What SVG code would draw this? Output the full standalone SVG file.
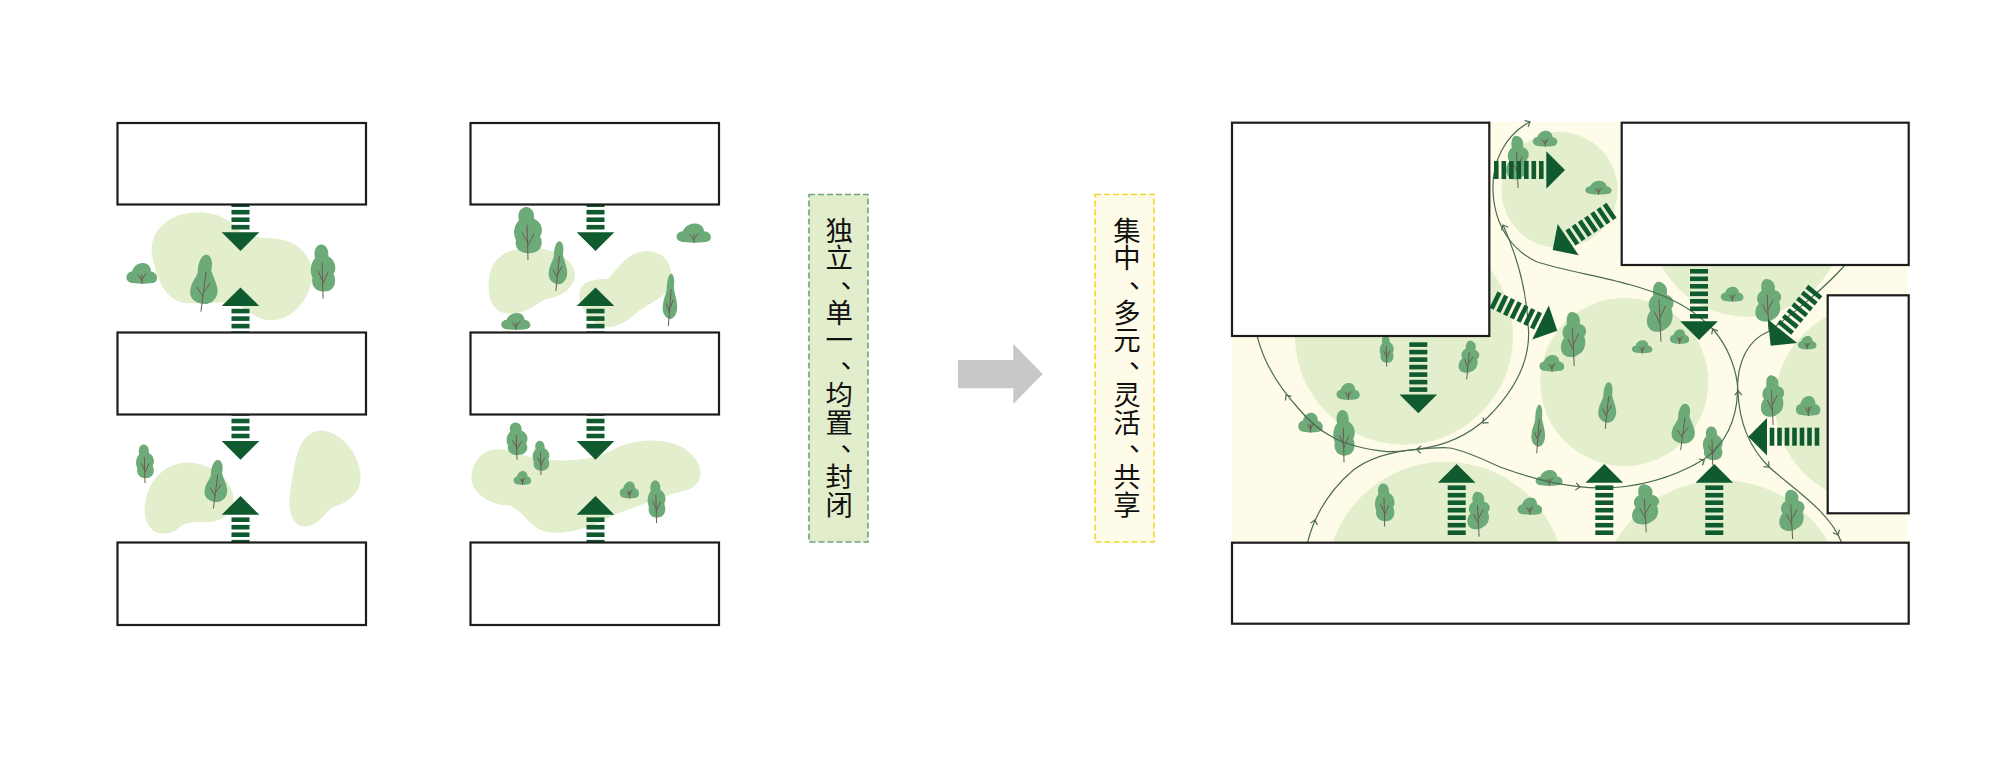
<svg xmlns="http://www.w3.org/2000/svg" width="2000" height="761" viewBox="0 0 2000 761">
<style>
.box{fill:#fff;stroke:#1c1c1c;stroke-width:2.2}
.blob{fill:#e3eecd}
.crown{fill:#6cab78}
.trunk{fill:none;stroke:#6d5a52;stroke-width:1;vector-effect:non-scaling-stroke}
.route{fill:none;stroke:#4b6a52;stroke-width:1.2}
.ink{fill:#0f5a2e}
.label{font-family:"Noto Sans CJK SC","Noto Sans",sans-serif;font-size:27.4px;fill:#111}
</style>
<defs>
<!-- entrance arrow: tip at the origin, pointing up -->
<g id="entry" class="ink">
<path d="M0 0L18.8 18.7H-18.8Z"/>
<rect x="-9" y="21.4" width="18" height="4.6"/>
<rect x="-9" y="28.9" width="18" height="4.6"/>
<rect x="-9" y="36.4" width="18" height="4.6"/>
<rect x="-9" y="43.9" width="18" height="4.6"/>
<rect x="-9" y="51.4" width="18" height="4.6"/>
<rect x="-9" y="58.9" width="18" height="4.6"/>
<rect x="-9" y="66.4" width="18" height="4.6"/>
</g>
<!-- trees: origin at trunk foot, 28 by 60 units -->
<g id="tree-a">
<path class="crown" d="M-3-60C3-61 7-54 6-47C14-43 16-33 12-27C16-19 13-9 4-8C-7-6-14-13-12-23C-16-32-13-41-9-45C-11-53-8-59-3-60Z"/>
<path class="trunk" d="M0 0L-1-40M-.6-20L-6-31M-.5-16L6-30"/>
</g>
<g id="tree-b">
<path class="crown" d="M2-60C7-60 9-52 7-44C8-38 12-32 13-24C14-15 8-8 0-8C-9-9-15-15-13-24C-12-31-8-35-6-41C-6-50-3-60 2-60Z"/>
<path class="trunk" d="M-3 0L2-42M-1-16L-7-26M-.5-20L6-30"/>
</g>
<g id="tree-c">
<path class="crown" d="M-2-60C5-60 9-53 7-47C15-45 16-37 12-33C15-26 13-16 6-13C2-9-6-9-10-12C-16-17-14-27-10-31C-14-37-11-44-7-46C-8-53-7-59-2-60Z"/>
<path class="trunk" d="M1 0L-1-42M0-18L-6-30M0-24L6-36"/>
</g>
<g id="bush">
<path class="crown" d="M-9-1C-17-1-18-11-10-12C-8-18-3-20 1-20C6-20 9-16 9-12C17-11 17-1 10-1C4 0-3 0-9-1Z"/>
<path class="trunk" d="M0 0L0-9M0-3L-4-9M0-4L4-10"/>
</g>
<!-- open chevron drawn on the walking routes -->
<path id="chev" d="M-3.6 4.2L0 0L3.6 4.2" fill="none" stroke="#4b6a52" stroke-width="1.2"/>
<clipPath id="panel-clip"><rect x="1232" y="122" width="676.5" height="421"/></clipPath>
</defs>

<rect width="2000" height="761" fill="#fff"/>

<!-- existing layouts: lawn patches -->
<g id="lawns-left" transform="translate(99.5 110) scale(.41 .338)">
<path class="blob" d="M235 303C290 300 320 330 345 360C380 385 420 375 450 385C505 400 530 470 515 520C500 580 460 625 415 622C380 620 360 590 330 570C290 565 250 575 205 570C160 560 140 500 130 440C115 370 160 305 235 303Z"/>
<path class="blob" d="M215 1043C280 1045 325 1100 327 1150C325 1190 300 1220 260 1220C220 1215 200 1225 185 1245C150 1265 115 1250 110 1190C110 1110 150 1045 215 1043Z"/>
<path class="blob" d="M540 948C590 950 635 1020 637 1085C637 1130 610 1160 570 1175C545 1195 535 1232 500 1232C470 1230 458 1190 465 1130C475 1060 480 950 540 948Z"/>
<path class="blob" d="M1045 408C1100 405 1160 440 1160 490C1155 530 1130 550 1090 560C1060 575 1050 600 1000 603C960 600 945 560 950 500C955 440 990 410 1045 408Z"/>
<path class="blob" d="M1335 417C1380 418 1400 460 1395 510C1385 555 1340 570 1310 600C1285 630 1250 650 1225 640C1190 625 1170 580 1170 540C1175 505 1210 500 1240 500C1265 470 1285 420 1335 417Z"/>
<path class="blob" d="M960 1005C1010 1000 1030 1030 1090 1035C1160 1040 1210 1035 1260 1000C1310 970 1390 970 1430 1005C1475 1040 1480 1110 1430 1125C1380 1140 1320 1170 1260 1195C1210 1230 1150 1255 1100 1250C1050 1245 1040 1190 1000 1170C950 1170 905 1130 907 1085C910 1040 930 1010 960 1005Z"/>
</g>

<g id="trees-left">
<use href="#bush" transform="translate(142 284) scale(1 1.05)"/>
<use href="#tree-b" transform="translate(204 311.7) scale(1.04 .95)"/>
<use href="#tree-a" transform="translate(323 298.5) scale(.88 .9)"/>
<use href="#tree-a" transform="translate(528 260) scale(1 .88)"/>
<use href="#tree-b" transform="translate(558 291) scale(.7 .83)"/>
<use href="#bush" transform="translate(694 243) scale(1.12 .98)"/>
<use href="#bush" transform="translate(516 330) scale(.95 .85)"/>
<use href="#tree-b" transform="translate(670 326) scale(.55 .87)"/>
<use href="#tree-a" transform="translate(145 483) scale(.64 .64)"/>
<use href="#tree-b" transform="translate(216 508.6) scale(.86 .81)"/>
<use href="#tree-a" transform="translate(517 459.7) scale(.75 .62)"/>
<use href="#tree-a" transform="translate(541 475) scale(.6 .57)"/>
<use href="#bush" transform="translate(522.5 485) scale(.57 .7)"/>
<use href="#bush" transform="translate(629.5 498.5) scale(.63 .85)"/>
<use href="#tree-a" transform="translate(656.5 523) scale(.64 .71)"/>
</g>

<g id="entries-left">
<use href="#entry" transform="translate(240.5 250.9) rotate(180)"/>
<use href="#entry" transform="translate(240.5 287.4)"/>
<use href="#entry" transform="translate(240.5 459.7) rotate(180)"/>
<use href="#entry" transform="translate(240.5 496)"/>
<use href="#entry" transform="translate(595.5 250.9) rotate(180)"/>
<use href="#entry" transform="translate(595.5 287.4)"/>
<use href="#entry" transform="translate(595.5 459.7) rotate(180)"/>
<use href="#entry" transform="translate(595.5 496)"/>
</g>

<g id="blocks-left">
<rect id="block-a1" class="box" x="117.5" y="123" width="248.5" height="81.5"/>
<rect id="block-a2" class="box" x="117.5" y="332.5" width="248.5" height="82"/>
<rect id="block-a3" class="box" x="117.5" y="542.5" width="248.5" height="82.5"/>
<rect id="block-b1" class="box" x="470.5" y="123" width="248.5" height="81.5"/>
<rect id="block-b2" class="box" x="470.5" y="332.5" width="248.5" height="82"/>
<rect id="block-b3" class="box" x="470.5" y="542.5" width="248.5" height="82.5"/>
</g>

<!-- captions and the transition arrow -->
<g id="caption-before">
<rect x="809" y="194.5" width="59" height="347.5" fill="#e2edcb" stroke="#6fa57a" stroke-width="1.6" stroke-dasharray="6 3"/>
<text class="label" x="825.6 825.6 840.5 825.6 825.6 840.5 825.6 825.6 840.5 825.6 825.6" y="240.7 268.1 288 322.9 350.3 368 405.1 432.5 451 487.3 514.7">独立、单一、均置、封闭</text>
</g>
<path id="transition" d="M958 360H1013.3V344L1042.7 374L1013.3 404V388.3H958Z" fill="#c8c8c8"/>
<g id="caption-after">
<rect x="1095" y="194.5" width="59" height="347.5" fill="#fefce8" stroke="#eed82c" stroke-width="1.6" stroke-dasharray="6 3"/>
<text class="label" x="1113.3 1113.3 1129 1113.3 1113.3 1129 1113.3 1113.3 1129 1113.3 1113.3" y="240.7 268.1 288 322.9 350.3 368 405.1 432.5 451 487.3 514.7">集中、多元、灵活、共享</text>
</g>

<!-- proposed layout -->
<g id="site" clip-path="url(#panel-clip)">
<rect x="1232" y="122" width="676.5" height="421" fill="#fefce8"/>
<circle class="blob" cx="1559.5" cy="190" r="58"/>
<circle class="blob" cx="1404" cy="335.7" r="109"/>
<circle class="blob" cx="1624.3" cy="382" r="84"/>
<circle class="blob" cx="1445.5" cy="580.7" r="119"/>
<circle class="blob" cx="1721.7" cy="603" r="122.8"/>
<circle class="blob" cx="1746.7" cy="219.7" r="97"/>
<circle class="blob" cx="1873.5" cy="403.3" r="98.5"/>
</g>

<g id="trees-site">
<use href="#tree-c" transform="translate(1517.3 188) scale(.8 .87)"/>
<use href="#bush" transform="translate(1545.3 146.7) scale(.8 .8)"/>
<use href="#bush" transform="translate(1598.7 194.7) scale(.86 .7)"/>
<use href="#tree-a" transform="translate(1386.7 366.7) scale(.5 .52)"/>
<use href="#tree-c" transform="translate(1466 379.3) scale(.68 .65) rotate(8)"/>
<use href="#bush" transform="translate(1348.3 400) scale(.76 .85)"/>
<use href="#bush" transform="translate(1310.7 432.7) scale(.8 1)"/>
<use href="#tree-a" transform="translate(1344 462.3) scale(.77 .87)"/>
<use href="#tree-c" transform="translate(1573.3 366) scale(.9 .9)"/>
<use href="#bush" transform="translate(1552 371.7) scale(.81 .84)"/>
<use href="#tree-c" transform="translate(1660 341.7) scale(.95 1)"/>
<use href="#bush" transform="translate(1642.3 353.3) scale(.67 .65)"/>
<use href="#bush" transform="translate(1679.7 344) scale(.63 .74)"/>
<use href="#tree-b" transform="translate(1607.3 429) scale(.68 .78)"/>
<use href="#tree-b" transform="translate(1538.3 453.3) scale(.52 .81)"/>
<use href="#tree-b" transform="translate(1683.3 450) scale(.88 .77)"/>
<use href="#tree-a" transform="translate(1712.7 465) scale(.71 .64)"/>
<use href="#bush" transform="translate(1549.3 486) scale(.88 .8)"/>
<use href="#tree-a" transform="translate(1384.7 526.7) scale(.7 .72)"/>
<use href="#tree-c" transform="translate(1478.3 536.7) scale(.8 .75)"/>
<use href="#bush" transform="translate(1530 515) scale(.8 .87)"/>
<use href="#tree-c" transform="translate(1645.3 532.3) scale(.96 .8)"/>
<use href="#tree-c" transform="translate(1791.7 539) scale(.9 .82)"/>
<use href="#tree-c" transform="translate(1768 330) scale(.92 .85)"/>
<use href="#bush" transform="translate(1732.3 301.7) scale(.74 .75)"/>
<use href="#bush" transform="translate(1807.3 349.3) scale(.61 .67)"/>
<use href="#tree-c" transform="translate(1772.3 425) scale(.83 .83)"/>
<use href="#bush" transform="translate(1808.3 416) scale(.8 1)"/>
</g>

<!-- walking routes and entrance arrows -->
<g id="connectors">
<path class="route" d="M1257.3 336.7C1264 364 1280 388 1298 408C1318 432 1340 447 1386.7 451.7C1402 452 1410 450 1416.7 449.3C1446 446 1470 434 1488 417C1515 390 1530 360 1528.5 330C1527 290 1518 258 1503 225"/>
<path class="route" d="M1530 121.7C1505 135 1492 162 1493 190C1494 228 1515 252 1536.7 261.7C1575 274 1630 280 1670 299C1688 307 1700 316 1712.7 329C1728 346 1737 370 1738 391C1739 425 1752 450 1769 467C1795 490 1830 512 1841.7 542.7"/>
<path class="route" d="M1307.3 543.3C1314 516 1330 490 1353.3 470C1372 456 1396 451 1416.7 449.3C1430 448 1442 447 1450 448C1470 452 1490 463 1503 468C1530 478 1555 484 1578.3 486.7C1610 490 1655 488 1703 460C1725 445 1737 420 1737.5 391C1737 362 1748 340 1768 331.7C1790 316 1825 288 1845 265"/>
<g id="route-chevrons">
<use href="#chev" transform="translate(1530 121.7) rotate(60)"/>
<use href="#chev" transform="translate(1503 225) rotate(-25)"/>
<use href="#chev" transform="translate(1286 395) rotate(-35)"/>
<use href="#chev" transform="translate(1483 423) rotate(225)"/>
<use href="#chev" transform="translate(1416.7 449.3) rotate(-85)"/>
<use href="#chev" transform="translate(1315 520) rotate(15)"/>
<use href="#chev" transform="translate(1580 487) rotate(97)"/>
<use href="#chev" transform="translate(1704.3 460) rotate(60)"/>
<use href="#chev" transform="translate(1738.3 391)"/>
<use href="#chev" transform="translate(1712.7 329) rotate(-30)"/>
<use href="#chev" transform="translate(1769 467) rotate(135)"/>
<use href="#chev" transform="translate(1838 535) rotate(155)"/>
</g>
<g id="entries-site">
<use href="#entry" transform="translate(1565 170) rotate(90)"/>
<use href="#entry" transform="translate(1552.7 250) rotate(236)"/>
<use href="#entry" transform="translate(1557.3 330.7) rotate(116)"/>
<use href="#entry" transform="translate(1418.3 413.3) rotate(180)"/>
<use href="#entry" transform="translate(1456.7 464)"/>
<use href="#entry" transform="translate(1604.3 464)"/>
<use href="#entry" transform="translate(1714.3 464)"/>
<use href="#entry" transform="translate(1699 340) rotate(180)"/>
<use href="#entry" transform="translate(1748.3 436.7) rotate(-90)"/>
<use href="#entry" transform="translate(1770.7 345.7) rotate(219)"/>
</g>
</g>

<g id="blocks-site">
<rect id="block-c1" class="box" x="1232" y="122.7" width="257.3" height="213.3"/>
<rect id="block-c2" class="box" x="1621.7" y="122.7" width="287" height="142.3"/>
<rect id="block-c3" class="box" x="1827.7" y="295.3" width="81" height="218"/>
<rect id="block-c4" class="box" x="1232" y="542.7" width="676.7" height="81"/>
</g>
</svg>
